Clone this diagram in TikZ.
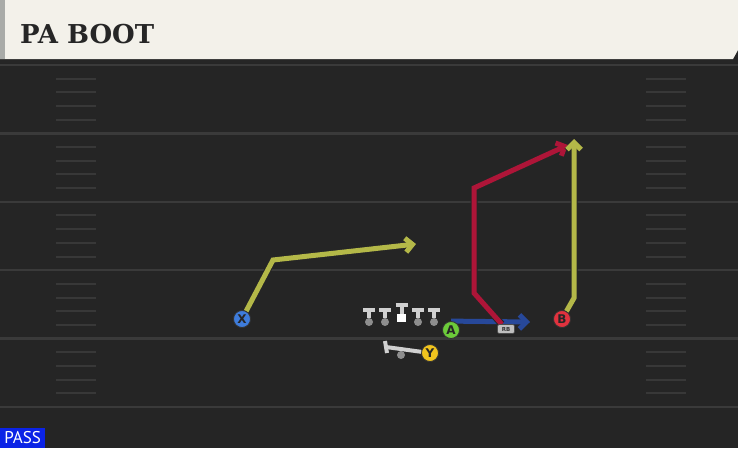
\documentclass[tikz,border=0pt]{standalone}
\usepackage{fontspec}
\setmainfont{DejaVu Sans}
\newfontfamily\titlefont{DejaVu Serif}
\newfontfamily\tagfont{PT Sans}
\usetikzlibrary{arrows.meta}
\definecolor{cream}{HTML}{F3F1EA}
\definecolor{stripgray}{HTML}{A9ABA8}
\definecolor{turf}{HTML}{252525}
\definecolor{yardgray}{HTML}{3A3A3A}
\definecolor{hashgray}{HTML}{383838}
\definecolor{routeyellow}{HTML}{B4B848}
\definecolor{routered}{HTML}{AE1538}
\definecolor{routeblue}{HTML}{27489A}
\definecolor{xblue}{HTML}{3E7CDB}
\definecolor{agreen}{HTML}{6CCB3A}
\definecolor{bred}{HTML}{E1323E}
\definecolor{yyellow}{HTML}{F1C41E}
\definecolor{linegray}{HTML}{D0D0D0}
\definecolor{dotgray}{HTML}{8E8E8E}
\definecolor{passblue}{HTML}{0B23E6}
\pgfdeclarelayer{back}
\pgfsetlayers{back,main}
\tikzset{
  player/.style={circle,draw=black!80,line width=0.8pt,inner sep=0pt,minimum size=17pt,
    font=\bfseries\fontsize{12}{12}\selectfont,text=black!85},
  route/.style={line width=5pt,-{Straight Barb[length=7pt,width=14pt]},
    preaction={draw=black!85,line width=7pt,-{Straight Barb[length=7pt,width=14pt]}}},
  yard/.style={draw=yardgray,line width=2.5pt},
  hash/.style={draw=hashgray,line width=2pt},
  lineman/.style={draw=linegray,line width=4pt},
  ldot/.style={circle,fill=dotgray,inner sep=0pt,minimum size=8pt},
  rbtag/.style={rectangle,rounded corners=2pt,fill=black!25,draw=black!70,line width=0.6pt,
    minimum width=17pt,minimum height=9pt,inner sep=0pt,font=\bfseries\fontsize{5.5}{5.5}\selectfont,text=black!80}
}
\begin{document}
\begin{tikzpicture}[x=1pt,y=-1pt]
\useasboundingbox (0,0) rectangle (738,448);
\begin{pgfonlayer}{back}
\fill[turf] (0,0) rectangle (738,448);
\fill[black!85] (0,56) rectangle (738,63);
\foreach \k in {0,...,5}
  \draw[yard] (0,65+68.4*\k) -- (738,65+68.4*\k);
\foreach \k in {0,...,4}
  \foreach \j in {1,...,4} {
    \pgfmathsetmacro\hy{65+68.4*\k+13.68*\j}
    \draw[hash] (56,\hy) -- (96,\hy);
    \draw[hash] (646,\hy) -- (686,\hy);
  }
\fill[cream] (0,0) -- (738,0) -- (738,50) -- (733,59) -- (0,59) -- cycle;
\fill[stripgray] (0,0) rectangle (5,59);
\end{pgfonlayer}
\node[anchor=base west,inner sep=0pt,text=black!85,
  font=\titlefont\bfseries\fontsize{26}{26}\selectfont] (title) at (20,43) {PA BOOT};
\node[anchor=south west,fill=passblue,text=white,inner sep=0pt,minimum width=45pt,minimum height=20pt,
  font=\tagfont\fontsize{17}{17}\selectfont] (playtype) at (0,448) {PASS};
\foreach \i/\x in {1/369,2/385,4/418,5/434} {
  \node[ldot] (l_\i) at (\x,322) {};
  \draw[lineman] (\x-6,310) -- (\x+6,310) (\x,310) -- (l_\i);
}
\node[fill=white,inner sep=0pt,minimum size=8.5pt] (l_3) at (401.5,318) {};
\draw[lineman] (395.5,305) -- (407.5,305) (401.5,305) -- (l_3);
\node[player,fill=xblue]   (p_x)  at (242,319) {X};
\node[player,fill=agreen]  (p_a)  at (451,330) {A};
\node[player,fill=bred]    (p_b)  at (562,319) {B};
\node[player,fill=yyellow] (p_y)  at (430,353) {Y};
\node[rbtag]               (p_rb) at (506,329) {RB};
\node[ldot] (y_d) at (401,355) {};
\coordinate (y_1) at (386,347);
\draw[lineman] (p_y) -- (y_1);
\draw[lineman] (385,341) -- (387,353);
\coordinate (x_1) at (273,260);
\coordinate (x_2) at (416,244);
\coordinate (a_1) at (530,322);
\coordinate (rb_1) at (474,293);
\coordinate (rb_2) at (474,188);
\coordinate (rb_3) at (568,145);
\coordinate (b_1) at (574,298);
\coordinate (b_2) at (574,139);
\begin{pgfonlayer}{back}
\draw[route,routeyellow] (p_x) -- (x_1) -- (x_2);
\draw[route,routeblue] (p_a.north) -- (a_1);
\draw[route,routered] (p_rb) -- (rb_1) -- (rb_2) -- (rb_3);
\draw[route,routeyellow] (p_b) -- (b_1) -- (b_2);
\end{pgfonlayer}
\end{tikzpicture}
\end{document}
